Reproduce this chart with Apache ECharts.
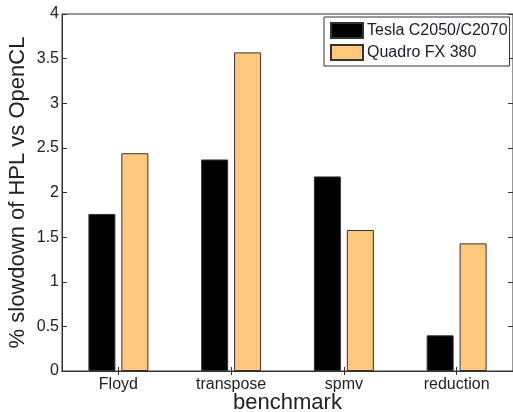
<!DOCTYPE html>
<html>
<head>
<meta charset="utf-8">
<script src="https://cdn.jsdelivr.net/npm/echarts@6/dist/echarts.min.js"></script>
<style>html,body{margin:0;padding:0;background:#fff}#c{width:513px;height:412px}</style>
</head>
<body>
<div id="c"></div>
<script>
var categories = ['Floyd', 'transpose', 'spmv', 'reduction'];
var teslaValues = [1.76, 2.37, 2.18, 0.40];
var quadroValues = [2.44, 3.57, 1.58, 1.43];
var seriesNames = ['Tesla C2050/C2070', 'Quadro FX 380'];
var yTicks = { min: 0, max: 4, interval: 0.5 };

var font = 'Liberation Sans, Arial, Helvetica, sans-serif';
var chart = echarts.init(document.getElementById('c'), null, { renderer: 'canvas' });
var axisLine = { show: true, lineStyle: { color: '#333', width: 1 } };
chart.setOption({
  animation: false,
  backgroundColor: '#fff',
  grid: { left: 62, top: 14, right: 0, bottom: 41, outerBoundsMode: 'none', containLabel: false,
          show: true, borderColor: '#333', borderWidth: 1, backgroundColor: 'transparent' },
  legend: {
    orient: 'vertical', left: 324, top: 17,
    backgroundColor: '#fff', borderColor: '#333', borderWidth: 1,
    padding: [5, 2, 5, 6], itemGap: 5, itemWidth: 32, itemHeight: 15,
    icon: 'rect',
    textStyle: { fontFamily: font, fontSize: 16, color: '#1a1a2e', lineHeight: 15, padding: [0, 0, 0, -1] },
    data: seriesNames
  },
  xAxis: [{
    type: 'category', data: categories, position: 'bottom',
    axisLine: axisLine,
    axisTick: { show: true, inside: true, alignWithLabel: true, length: 4, lineStyle: { color: '#333' } },
    axisLabel: { fontFamily: font, fontSize: 16, color: '#222', margin: 6 },
    name: 'benchmark', nameLocation: 'middle', nameGap: 21, nameMoveOverlap: false,
    nameTextStyle: { fontFamily: font, fontSize: 22, color: '#222' }
  }, {
    type: 'category', data: categories, position: 'top',
    axisLine: axisLine,
    axisTick: { show: true, inside: true, alignWithLabel: true, length: 4, lineStyle: { color: '#333' } },
    axisLabel: { show: false }
  }],
  yAxis: [{
    type: 'value', min: yTicks.min, max: yTicks.max, interval: yTicks.interval, position: 'left',
    axisLine: axisLine, splitLine: { show: false },
    axisTick: { show: true, inside: true, length: 5, lineStyle: { color: '#333' } },
    axisLabel: { fontFamily: font, fontSize: 16, color: '#222', margin: 3 },
    name: '% slowdown of HPL vs OpenCL', nameLocation: 'middle', nameGap: 33, nameMoveOverlap: false,
    nameTextStyle: { fontFamily: font, fontSize: 22, color: '#222' }
  }, {
    type: 'value', min: yTicks.min, max: yTicks.max, interval: yTicks.interval, position: 'right',
    axisLine: axisLine, splitLine: { show: false },
    axisTick: { show: true, inside: true, length: 5, lineStyle: { color: '#333' } },
    axisLabel: { show: false }
  }],
  series: [{
    name: seriesNames[0], type: 'bar', data: teslaValues, barWidth: 27, barGap: '22%',
    itemStyle: { color: '#000', borderColor: '#333', borderWidth: 1 }
  }, {
    name: seriesNames[1], type: 'bar', data: quadroValues, barWidth: 27, barGap: '22%',
    itemStyle: { color: '#FFC87C', borderColor: '#333', borderWidth: 1 }
  }]
});
</script>
</body>
</html>
